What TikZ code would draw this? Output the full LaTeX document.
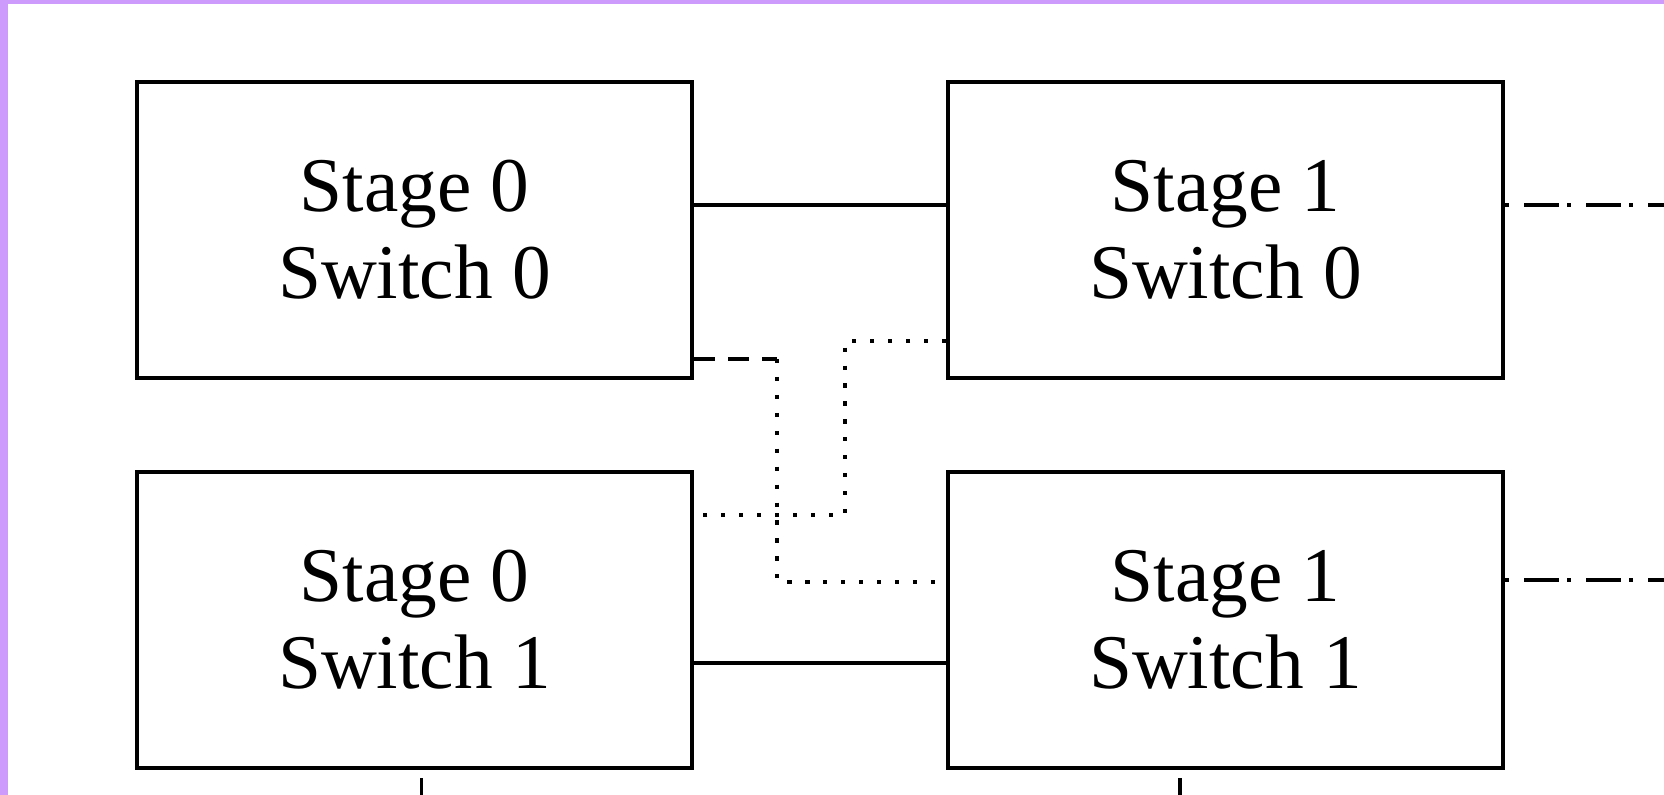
\documentclass[tikz,border=0pt]{standalone}
\usepackage{fontspec}
\setmainfont{Liberation Serif}
\usetikzlibrary{positioning}
\definecolor{framepurple}{RGB}{204,155,252}
\tikzset{switchbox/.style = {draw, line width = 1.1pt, inner sep = 0,
                             minimum width = 5.55cm, minimum height = 2.96cm,
                             align = center, font = \fontsize{22}{24.7}\selectfont}}
\tikzset{wire/.style = {line width = 1.1pt}}
\tikzset{dashwire/.style = {wire, dash pattern = on 6pt off 3.7pt}}
\tikzset{dotwire/.style = {wire, dash pattern = on 1.2pt off 3.9pt}}
\tikzset{dashdotwire/.style = {wire, dash pattern = on 1.14pt off 4.27pt on 9.96pt off 2.28pt}}

\begin{document}
\begin{tikzpicture}[x = 0.01cm, y = 0.01cm]
      \useasboundingbox (0, 0) rectangle (1664, 795);
      \fill [framepurple] (0, 0) rectangle (8, 795);
      \fill [framepurple] (0, 791) rectangle (1664, 795);

      % the four switches
      \node [switchbox] (s0sw0) at (414.5, 565) {Stage 0\\Switch 0};
      \node [switchbox] (s1sw0) at (1225.5, 565) {Stage 1\\Switch 0};
      \node [switchbox] (s0sw1) at (414.5, 175) {Stage 0\\Switch 1};
      \node [switchbox] (s1sw1) at (1225.5, 175) {Stage 1\\Switch 1};

      % straight links
      \draw [wire] ([yshift = 0.25cm] s0sw0.east) -- ([yshift = 0.25cm] s1sw0.west);
      \draw [wire] ([yshift = -0.43cm] s0sw1.east) -- ([yshift = -0.43cm] s1sw1.west);

      % crossed links
      \draw [dashwire] ([yshift = -1.29cm] s0sw0.east) -- ++(0.83cm, 0) coordinate (cross);
      \draw [dotwire] (cross) |- ([yshift = 0.38cm] s1sw1.west);
      \draw [dotwire] ([yshift = -1.11cm] s1sw0.west) -- ++(-1.01cm, 0)
                      |- ([yshift = 1.05cm] s0sw1.east);

      % on to the next stage
      \draw [dashdotwire] ([yshift = 0.25cm] s1sw0.east) -- ++(1.8cm, 0) coordinate (out0);
      \draw [dashdotwire] ([yshift = 0.40cm] s1sw1.east) -- ++(1.8cm, 0) coordinate (out1);

      % down below
      \draw [wire] ([xshift = 0.07cm, yshift = -0.08cm] s0sw1.south) -- ++(0, -0.4cm) coordinate (down0);
      \draw [wire] ([xshift = -0.455cm, yshift = -0.08cm] s1sw1.south) -- ++(0, -0.4cm) coordinate (down1);
    \end{tikzpicture}
\end{document}
